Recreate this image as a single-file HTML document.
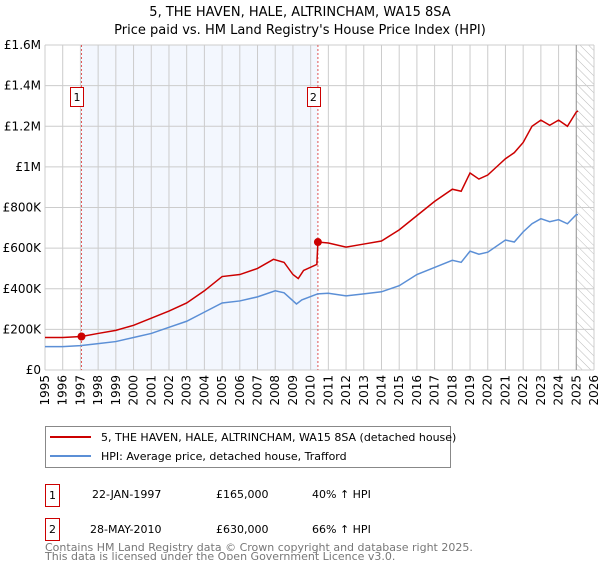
<!DOCTYPE html>
<html><head><meta charset="utf-8"><style>
body{margin:0;background:#fff;font-family:"DejaVu Sans","Liberation Sans",sans-serif;}
svg text{font-family:"DejaVu Sans","Liberation Sans",sans-serif;}
</style></head><body>
<svg id="c" width="600" height="560" xmlns="http://www.w3.org/2000/svg">
<text x="300" y="16" font-size="13" text-anchor="middle">5, THE HAVEN, HALE, ALTRINCHAM, WA15 8SA</text>
<text x="300" y="34" font-size="13" text-anchor="middle">Price paid vs. HM Land Registry's House Price Index (HPI)</text>
<g id="plot"></g>
<g>
<rect x="45.5" y="426.5" width="405" height="41" fill="#fff" stroke="#888"/>
<line x1="50" y1="437" x2="91" y2="437" stroke="#cc0000" stroke-width="2"/>
<text x="101" y="441" font-size="11">5, THE HAVEN, HALE, ALTRINCHAM, WA15 8SA (detached house)</text>
<line x1="50" y1="456" x2="91" y2="456" stroke="#5b8fd6" stroke-width="2"/>
<text x="101" y="460" font-size="11">HPI: Average price, detached house, Trafford</text>
</g>
<g font-size="11">
<rect x="45.5" y="484.5" width="14" height="22" fill="none" stroke="#cc0000"/><text x="52.5" y="499" text-anchor="middle">1</text>
<text x="92" y="498">22-JAN-1997</text><text x="216" y="498">£165,000</text><text x="312" y="498">40% ↑ HPI</text>
<rect x="45.5" y="518.5" width="14" height="22" fill="none" stroke="#cc0000"/><text x="52.5" y="533" text-anchor="middle">2</text>
<text x="90" y="533">28-MAY-2010</text><text x="216" y="533">£630,000</text><text x="312" y="533">66% ↑ HPI</text>
</g>
<text x="45" y="551" font-size="11" fill="#777">Contains HM Land Registry data © Crown copyright and database right 2025.</text>
<text x="45" y="560" font-size="11" fill="#777">This data is licensed under the Open Government Licence v3.0.</text>
</svg>
<script>
const yearTicks=[1995,1996,1997,1998,1999,2000,2001,2002,2003,2004,2005,2006,2007,2008,2009,2010,2011,2012,2013,2014,2015,2016,2017,2018,2019,2020,2021,2022,2023,2024,2025,2026];
const yTicks=[0,200,400,600,800,1000,1200,1400,1600];
const yTickLabels=["£0","£200K","£400K","£600K","£800K","£1M","£1.2M","£1.4M","£1.6M"];
const redX=[1995,1996,1997.06,1998,1999,2000,2001,2002,2003,2004,2005,2006,2007,2007.9,2008.5,2009,2009.3,2009.6,2010.35,2010.41,2011,2012,2013,2014,2015,2016,2017,2018,2018.5,2019,2019.5,2020,2020.5,2021,2021.5,2022,2022.5,2023,2023.5,2024,2024.5,2025,2025.1];
const redY=[160,160,165,180,195,220,255,290,330,390,460,470,500,545,530,470,450,490,520,630,625,605,620,635,690,760,830,890,880,970,940,960,1000,1040,1070,1120,1200,1230,1205,1230,1200,1270,1275];
const blueX=[1995,1996,1997,1998,1999,2000,2001,2002,2003,2004,2005,2006,2007,2008,2008.5,2009.2,2009.5,2010.4,2011,2012,2013,2014,2015,2016,2017,2018,2018.5,2019,2019.5,2020,2021,2021.5,2022,2022.5,2023,2023.5,2024,2024.5,2025,2025.1];
const blueY=[115,115,120,130,140,160,180,210,240,285,330,340,360,390,380,325,345,375,378,365,375,385,415,470,505,540,530,585,570,580,640,630,680,720,745,730,740,720,765,765];
const sales=[[1997.06,165],[2010.41,630]];
const X0=45,X1=594,Y0=370,Y1=45;
const sx=v=>X0+(v-1995)/(2026-1995)*(X1-X0);
const sy=v=>Y0-v/1600*(Y0-Y1);
const NS="http://www.w3.org/2000/svg";
const g=document.getElementById('plot');
function mk(t,a){const e=document.createElementNS(NS,t);for(const k in a)e.setAttribute(k,a[k]);g.appendChild(e);return e;}
let e;
e=mk('rect',{x:sx(1997.06),y:Y1,width:sx(2010.41)-sx(1997.06),height:Y0-Y1,fill:'#eef3fd',opacity:0.7});


const defs=mk('defs',{});
defs.innerHTML='<pattern id="h" width="6" height="6" patternUnits="userSpaceOnUse" patternTransform="rotate(-45)"><line x1="0" y1="0" x2="0" y2="6" stroke="#bbb" stroke-width="1"/></pattern>';
e=mk('rect',{x:sx(2025),y:Y1,width:X1-sx(2025),height:Y0-Y1,fill:'url(#h)'});


yearTicks.forEach(yr=>{
 e=mk('line',{x1:sx(yr),x2:sx(yr),y1:Y1,y2:Y0,stroke:'#ccc'});
 
 
 e=mk('text',{x:0,y:0,'font-size':12,'text-anchor':'end',transform:'translate('+(sx(yr)+4)+',375) rotate(-90)'});e.textContent=yr;
 
 
});
yTicks.forEach((v,i)=>{
 e=mk('line',{x1:X0,x2:X1,y1:sy(v),y2:sy(v),stroke:'#ccc'});
 
 
 e=mk('text',{x:X0-4,y:sy(v)+4,'font-size':12,'text-anchor':'end'});e.textContent=yTickLabels[i];
 
 
});
e=mk('line',{x1:sx(2025),x2:sx(2025),y1:Y1,y2:Y0,stroke:'#999'});


sales.forEach((s,i)=>{
 e=mk('line',{x1:sx(s[0]),x2:sx(s[0]),y1:Y1,y2:Y0,stroke:'#e05555','stroke-dasharray':'2,2'});
 
 
 e=mk('rect',{x:Math.round(sx(s[0])-11)+0.5,y:87.5,width:13,height:19,fill:'#fff',stroke:'#cc0000'});
 
 
 e=mk('text',{x:sx(s[0])-4.5,y:101,'font-size':11,'text-anchor':'middle'});e.textContent=i+1;
 
 
});
e=mk('polyline',{points:blueX.map((x,i)=>sx(x)+','+sy(blueY[i])).join(' '),fill:'none',stroke:'#5b8fd6','stroke-width':1.5});


e=mk('polyline',{points:redX.map((x,i)=>sx(x)+','+sy(redY[i])).join(' '),fill:'none',stroke:'#cc0000','stroke-width':1.5});


sales.forEach(s=>{
 e=mk('circle',{cx:sx(s[0]),cy:sy(s[1]),r:4,fill:'#cc0000'});
 
 
});
</script>
</body></html>
